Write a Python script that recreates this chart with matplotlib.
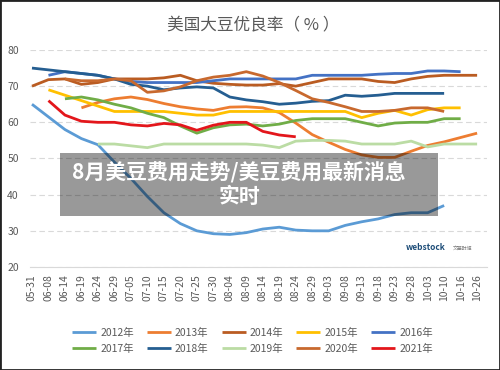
import numpy as np
import matplotlib
matplotlib.use("Agg")
import matplotlib.pyplot as plt
from matplotlib.patches import Rectangle

plt.rcParams['font.family'] = ['Noto Sans CJK SC', 'DejaVu Sans']

# x-axis categories
dates = ['05-31', '06-08', '06-14', '06-19', '06-24', '06-29', '07-05', '07-10',
         '07-15', '07-20', '07-25', '07-30', '08-04', '08-09', '08-14', '08-19',
         '08-24', '08-29', '09-03', '09-08', '09-13', '09-18', '09-23', '09-28',
         '10-03', '10-10', '10-16', '10-26']

# good/excellent ratings (%), None = no report
y2012 = [65, 61.5, 58, 55.5, 53.8, 49, 44.5, 39.5, 35, 32, 30, 29.2, 29, 29.5,
         30.5, 31, 30.2, 30, 30, 31.5, 32.5, 33.3, 34.5, 35, 35, 37, None, None]
y2013 = [None, None, None, 64, 65.5, 66.5, 67, 66.3, 65.2, 64.3, 63.7, 63.3, 64.2, 64.3,
         64, 62.7, 59.8, 56.6, 54.5, 52.5, 51, 50.3, 50.3, 52, 53.6, 54.6, 55.8, 57]
y2014 = [70, 71.8, 72, 70.5, 71, 72, 72, 72, 72.3, 73, 71.5, 70.8, 70.5, 70.3,
         70.3, 70.7, 70, 71, 72, 72, 72, 71.3, 71, 72, 72.7, 73, 73, 73]
y2015 = [None, 69, 67.5, 66, 64.5, 63, 63, 63, 63, 62.5, 62, 62, 63, 63,
         63, 63, 63, 63, 63, 63, 61.3, 62.5, 63.3, 62, 63.5, 64, 64, None]
y2016 = [None, 73, 74, 73.5, 73, 72, 71.3, 71, 71, 71, 71, 71.5, 72, 72,
         72, 72, 72, 73, 73, 73, 73, 73.3, 73.5, 73.5, 74.2, 74.2, 74, None]
y2017 = [None, None, 66.5, 67, 66.2, 65, 64, 62.5, 61.3, 59, 57, 58.5, 59.3, 59.5,
         59, 59.5, 60.5, 61, 61, 61, 60, 59, 59.8, 60, 60, 61, 61, None]
y2018 = [75, 74.5, 74, 73.5, 73, 72, 70.5, 70, 69, 69.5, 69.8, 69.5, 67, 66.2,
         65.7, 65, 65.3, 65.8, 66, 67.5, 67.2, 67.5, 68, 68, 68, 68, None, None]
y2019 = [None, None, None, None, 54, 54, 53.5, 53, 54, 54, 54, 54, 54, 54,
         53.7, 53, 54.8, 55, 55, 54.8, 54, 54, 54, 54.8, 53.2, 54, 54, 54]
y2020 = [None, None, 72, 71.5, 71.5, 72, 71.5, 68.3, 68.7, 69.8, 71.5, 72.5, 73, 74,
         72.8, 71, 68.8, 66.5, 65.5, 64.3, 63, 63, 63.3, 64, 64, 63, None, None]
y2021 = [None, 66, 62, 60.3, 60, 60, 59.3, 59, 59.7, 59.3, 57.8, 59.2, 60, 60,
         57.5, 56.5, 56, None, None, None, None, None, None, None, None, None, None, None]

years = ['2012年', '2013年', '2014年', '2015年', '2016年',
         '2017年', '2018年', '2019年', '2020年', '2021年']
series = [y2012, y2013, y2014, y2015, y2016, y2017, y2018, y2019, y2020, y2021]
colors = ['#5B9BD5', '#ED7D31', '#BA5C22', '#FFC000', '#4472C4',
          '#70AD47', '#255E91', '#BBDCA4', '#C8692E', '#E3161B']

fig = plt.figure(figsize=(5, 3.7), dpi=100)
ax = fig.add_axes([0.06, 0.2784, 0.914, 0.5865])

x = np.arange(len(dates))
lines = []
for label, vals, c in zip(years, series, colors):
    ln, = ax.plot(x, np.array(vals, dtype=float), color=c, lw=2.0, label=label,
                  solid_capstyle='butt')
    lines.append(ln)

ax.set_ylim(20, 80)
ax.set_yticks(range(20, 81, 10))
ax.set_xlim(-0.12, 27.6)
ax.set_xticks(x)
ax.set_xticklabels(dates, rotation=90)
ax.tick_params(length=0, colors='#595959', labelsize=7.5)
ax.tick_params(axis='y', pad=8)
ax.tick_params(axis='x', pad=5)
for s in ['top', 'right', 'left']:
    ax.spines[s].set_visible(False)
ax.spines['bottom'].set_color('#D9D9D9')
ax.grid(axis='y', color='#D9D9D9', lw=0.8, ls=(0, (5, 3)))
ax.set_axisbelow(True)

fig.text(0.506, 0.93, '美国大豆优良率（ % ）', ha='center', va='center',
         fontsize=12, color='#595959')

# legend fills row by row: reorder for matplotlib's column-wise layout
order = [0, 5, 1, 6, 2, 7, 3, 8, 4, 9]
fig.legend([lines[i] for i in order], [years[i] for i in order],
           loc='center', bbox_to_anchor=(0.505, 0.079), ncol=5, frameon=False,
           fontsize=7.5, handlelength=2.3, handletextpad=0.4, columnspacing=1.25,
           labelspacing=0.6, labelcolor='#595959')

# logo watermark
fig.text(0.852, 0.33, 'webstock', fontsize=6, fontweight='bold', style='italic',
         color='#1F4E79', ha='center', va='center')
fig.text(0.925, 0.328, '文華財經', fontsize=3.5, color='#7F7F7F', ha='center', va='center')

# overlay caption box
fig.add_artist(Rectangle((0.12, 0.4162), 0.756, 0.1703, transform=fig.transFigure,
                         facecolor='black', alpha=0.4, edgecolor='none', zorder=5))
fig.text(0.478, 0.536, '8月美豆费用走势/美豆费用最新消息', ha='center', va='center',
         fontsize=15, fontweight='bold', color='white', zorder=6)
fig.text(0.48, 0.47, '实时', ha='center', va='center',
         fontsize=15, fontweight='bold', color='white', zorder=6)

# frame around the picture
fig.add_artist(Rectangle((0, 0), 1, 1, transform=fig.transFigure, fill=False,
                         edgecolor='#222222', lw=2, zorder=10))

fig.savefig('out.png', dpi=100)
